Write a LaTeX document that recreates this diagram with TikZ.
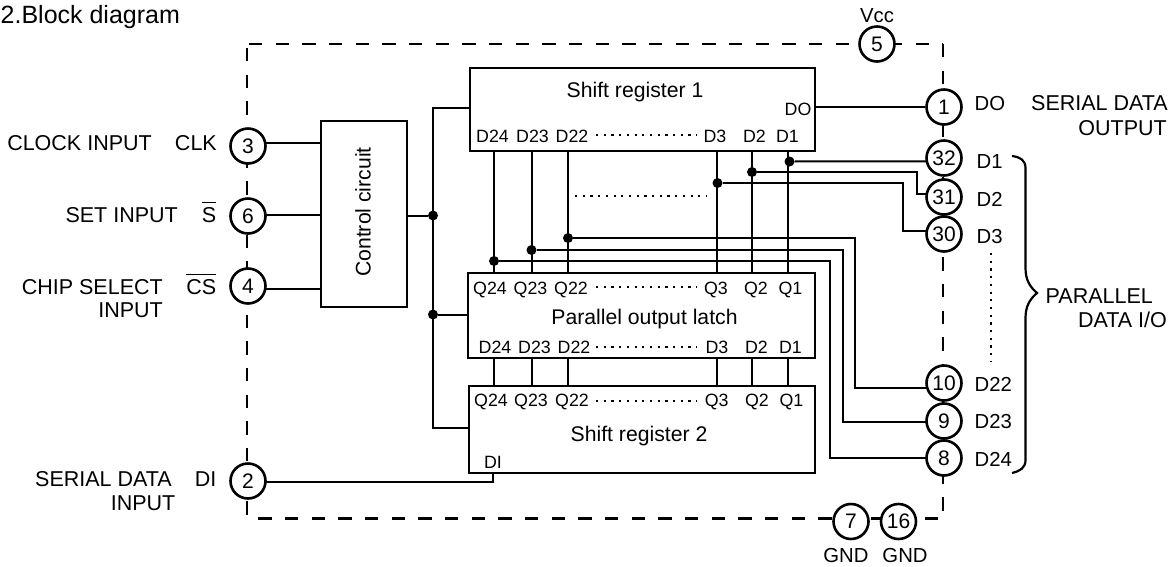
\documentclass[tikz,border=0pt]{standalone}
\usepackage{fontspec}
\setmainfont{Liberation Sans}
\usetikzlibrary{backgrounds}
\newcommand\barred[1]{\leavevmode\vbox{\hrule height 1.5pt \kern 3.6pt \hbox{#1}}}
\tikzset{
  x=1pt,y=-1pt,
  block/.style={draw,line width=2.7pt,fill=none,inner sep=0pt},
  pin/.style={draw,circle,line width=2.6pt,fill=white,minimum size=35pt,inner sep=0pt,font=\fontsize{21}{24}\selectfont},
  wire/.style={line width=2pt},
  jn/.style={circle,fill=black,minimum size=10pt,inner sep=0pt},
  lblE/.style={anchor=base east,inner sep=0pt,font=\fontsize{21.5}{24}\selectfont},
  lblW/.style={anchor=base west,inner sep=0pt,font=\fontsize{21.5}{24}\selectfont},
  lblC/.style={anchor=base,inner sep=0pt,font=\fontsize{21.2}{24}\selectfont},
  small/.style={inner sep=0pt,font=\fontsize{20.3}{24}\selectfont},
  sig/.style={anchor=base,inner sep=0pt,font=\fontsize{17.8}{22}\selectfont},
  leader/.style={line width=2.3pt,dash pattern=on 2.2pt off 5.5pt},
  frame/.style={line width=2.6pt,dash pattern=on 13.33pt off 13.33pt},
}
\begin{document}
\begin{tikzpicture}
\useasboundingbox (0,0) rectangle (1175,566);
% blocks
\node[block,minimum width=345pt,minimum height=83pt] (sr1) at (642.5,109.5) {};
\node[block,minimum width=347pt,minimum height=85pt] (lat) at (641.5,315.5) {};
\node[block,minimum width=346pt,minimum height=87pt] (sr2) at (642,429.5) {};
\node[block,minimum width=86pt,minimum height=186pt] (ctl) at (364,214) {};
\node[lblC,rotate=90,anchor=center] (ctltxt) at (363,212) {Control circuit};
\node[lblC] (t1) at (635,97) {Shift register 1};
\node[lblC] (t2) at (644.5,324) {Parallel output latch};
\node[lblC] (t3) at (639,441.5) {Shift register 2};
% pins
\node[pin] (p3) at (248,146) {3};
\node[pin] (p6) at (248,216) {6};
\node[pin] (p4) at (248,286) {4};
\node[pin] (p2) at (248,481) {2};
\node[pin] (p5) at (877,44) {5};
\node[pin] (p1) at (944,107) {1};
\node[pin] (p32) at (944,158) {32};
\node[pin] (p31) at (944,197) {31};
\node[pin] (p30) at (944,234) {30};
\node[pin] (p10) at (944,383) {10};
\node[pin] (p9) at (944,421) {9};
\node[pin] (p8) at (944,458) {8};
\node[pin] (p7) at (851,521.5) {7};
\node[pin] (p16) at (898.5,521.5) {16};
% junctions
\node[jn] (b1) at (433,215.5) {};
\node[jn] (b2) at (433,314.5) {};
\node[jn] (j1) at (789.5,161.5) {};
\node[jn] (j2) at (752,172) {};
\node[jn] (j3) at (717.5,183) {};
\node[jn] (j24) at (494,261) {};
\node[jn] (j23) at (531.5,250) {};
\node[jn] (j22) at (568,238) {};
% free points
\coordinate (a3) at (248,142.7);
\coordinate (a6) at (248,215);
\coordinate (a4) at (248,289);
\coordinate (a2) at (248,482);
\coordinate (s1) at (433,107.5);
\coordinate (s2) at (433,428);
\coordinate (di) at (493,482);
\coordinate (fnw) at (249,44);
\coordinate (fne) at (943,44);
\coordinate (fnw2) at (247,48);
\coordinate (fsw) at (247,518.5);
\coordinate (fsw2) at (258.3,518.5);
\coordinate (fse) at (943,518.5);
\coordinate (a32) at (944,161.3);
\coordinate (a31) at (944,194);
\coordinate (a30) at (944,231);
\coordinate (a10) at (944,388);
\coordinate (a9) at (944,422);
\coordinate (a8) at (944,458);
\coordinate (t31a) at (917,172);
\coordinate (t31b) at (917,194);
\coordinate (t30a) at (903,183);
\coordinate (t30b) at (903,231);
\coordinate (t10a) at (855,238);
\coordinate (t10b) at (855,388);
\coordinate (t9a) at (843,250);
\coordinate (t9b) at (843,422);
\coordinate (t8a) at (830,261);
\coordinate (t8b) at (830,458);
\begin{scope}[on background layer]
\draw[frame] (fnw) -- (fne);
\draw[frame] (fne) -- (fse);
\draw[frame] (fsw2) -- (fse);
\draw[frame] (fnw2) -- (fsw);
\draw[wire] (a3) -- (ctl.west |- a3);
\draw[wire] (a6) -- (ctl.west |- a6);
\draw[wire] (a4) -- (ctl.west |- a4);
\draw[wire] (ctl.east |- b1) -- (b1);
\draw[wire] (sr1.west |- s1) -- (s1) -- (s2) -- (sr2.west |- s2);
\draw[wire] (b2) -- (lat.west |- b2);
\draw[wire] (a2) -- (di) -- (di |- sr2.south);
\draw[wire] (sr1.east |- p1) -- (p1);
% data lines
\foreach \j/\x in {j24/494,j23/531.5,j22/568,j3/716.5,j2/752,j1/788}{
  \coordinate (v) at (\x,0);
  \draw[wire] (v |- sr1.south) -- (v |- lat.north);
  \draw[wire] (v |- lat.south) -- (v |- sr2.north);
}
\draw[wire] (j1) -- (a32);
\draw[wire] (j2) -- (t31a) -- (t31b) -- (a31);
\draw[wire] (j3) -- (t30a) -- (t30b) -- (a30);
\draw[wire] (j22) -- (t10a) -- (t10b) -- (a10);
\draw[wire] (j23) -- (t9a) -- (t9b) -- (a9);
\draw[wire] (j24) -- (t8a) -- (t8b) -- (a8);
\end{scope}
\coordinate (m1) at (575,196);
\coordinate (m2) at (707,196);
\draw[leader] (m1) -- (m2);
% signal labels
\foreach \n/\x/\y/\s in {a/492.5/142/D24,b/532.5/142/D23,c/572/142/D22,d/715/142/D3,e/754.5/142/D2,f/787.5/142/D1,
  g/490/294/Q24,h/530.5/294/Q23,i/571/294/Q22,j/716/294/Q3,k/756/294/Q2,l/790.5/294/Q1,
  m/495/353/D24,n/534.5/353/D23,o/574/353/D22,q/717/353/D3,r/756.5/353/D2,s/790.5/353/D1,
  t/491/406/Q24,u/531/406/Q23,v/572/406/Q22,w/716.7/406/Q3,y/757/406/Q2,z/791.5/406/Q1}{
  \node[sig] (sg\n) at (\x,\y) {\s};
}
\node[sig] (sdo) at (798,115) {DO};
\node[sig] (sdi) at (493,468) {DI};
\foreach \n/\y in {a/135,b/286.7,c/347,d/400.7}{
  \coordinate (la\n) at (596,\y);
  \coordinate (lb\n) at (697,\y);
  \draw[leader] (la\n) -- (lb\n);
}
% outer labels
\node[lblW,font=\fontsize{25}{28}\selectfont] (title) at (0.5,23) {2.Block diagram};
\node[small,anchor=base] (vcc) at (877,22) {Vcc};
\node[lblE] (l1) at (152,150) {CLOCK INPUT};
\node[lblE] (l1b) at (217,150) {CLK};
\node[lblE] (l2) at (178,222) {SET INPUT};
\node[lblE] (l2b) at (216.5,222) {\barred{S}};
\node[lblE] (l3) at (163,294) {CHIP SELECT};
\node[lblE] (l3i) at (163,317) {INPUT};
\node[lblE] (l3b) at (216.5,294) {\barred{CS}};
\node[lblE] (l4) at (172,486) {SERIAL DATA};
\node[lblE] (l4i) at (175.5,510) {INPUT};
\node[lblE] (l4b) at (216.5,486) {DI};
\node[small,anchor=base west] (r1) at (974.5,110) {DO};
\node[lblE] (r1a) at (1168,110) {SERIAL DATA};
\node[lblE] (r1b) at (1167,135) {OUTPUT};
\node[small,anchor=base west] (r2) at (976.5,168) {D1};
\node[small,anchor=base west] (r3) at (976.5,206) {D2};
\node[small,anchor=base west] (r4) at (976.5,243) {D3};
\node[small,anchor=base west] (r5) at (974.5,391) {D22};
\node[small,anchor=base west] (r6) at (974.5,428) {D23};
\node[small,anchor=base west] (r7) at (974.5,466) {D24};
\node[lblW] (r8) at (1045.5,303) {PARALLEL};
\node[lblE] (r9) at (1167,327) {DATA I/O};
\node[small,anchor=base] (g1) at (846,562) {GND};
\node[small,anchor=base] (g2) at (905,562) {GND};
% dotted column and brace
\coordinate (dc1) at (991,253);
\coordinate (dc2) at (991,361);
\draw[leader] (dc1) -- (dc2);
\coordinate (br1) at (1012,156);
\coordinate (br2) at (1037,293);
\coordinate (br3) at (1012,473);
\draw[line width=2.2pt] (br1) .. controls (1020,157) and (1025.5,160) .. (1025.5,168) -- (1025.5,268) .. controls (1025.5,280) and (1030,287) .. (br2) .. controls (1030,299) and (1025.5,306) .. (1025.5,318) -- (1025.5,460) .. controls (1025.5,468) and (1020,471) .. (br3);
\end{tikzpicture}
\end{document}
